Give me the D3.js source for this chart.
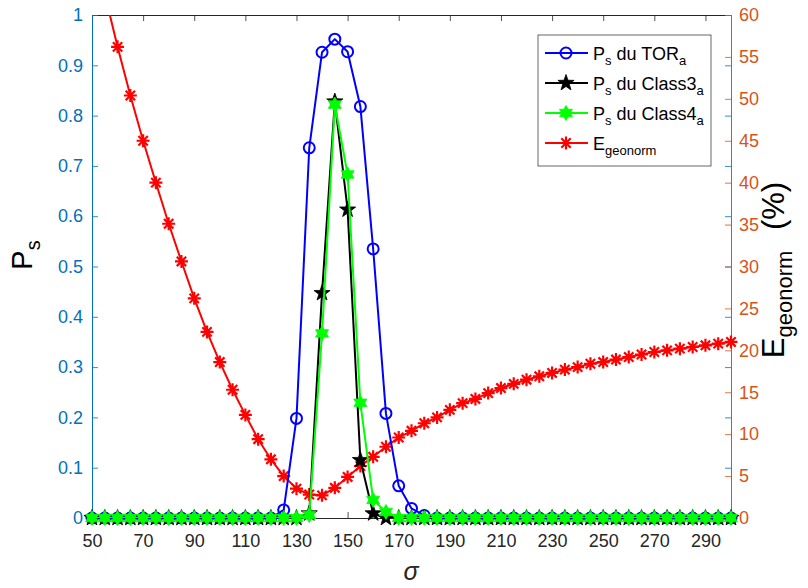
<!DOCTYPE html>
<html><head><meta charset="utf-8">
<script src="https://cdn.jsdelivr.net/npm/d3@7"></script>
<style>body{margin:0;background:#fff}svg{display:block}text{font-family:"Liberation Sans",Arial,sans-serif}</style>
</head><body><svg id="c" width="808" height="588"></svg>
<script>
const sigma=[50,55,60,65,70,75,80,85,90,95,100,105,110,115,120,125,130,135,140,145,150,155,160,165,170,175,180,185,190,195,200,205,210,215,220,225,230,235,240,245,250,255,260,265,270,275,280,285,290,295,300];
const psTOR=[0,0,0,0,0,0,0,0,0,0,0,0,0,0,0,0.016,0.198,0.736,0.926,0.952,0.927,0.818,0.535,0.208,0.064,0.019,0.005,0,0,0,0,0,0,0,0,0,0,0,0,0,0,0,0,0,0,0,0,0,0,0,0];
const psClass3=[0,0,0,0,0,0,0,0,0,0,0,0,0,0,0,0,0,0.009,0.447,0.828,0.613,0.115,0.009,0,0,0,0,0,0,0,0,0,0,0,0,0,0,0,0,0,0,0,0,0,0,0,0,0,0,0,0];
const psClass4=[0,0,0,0,0,0,0,0,0,0,0,0,0,0,0,0,0,0.006,0.367,0.822,0.683,0.229,0.036,0.012,0,0,0,0,0,0,0,0,0,0,0,0,0,0,0,0,0,0,0,0,0,0,0,0,0,0,0];
const eGeonorm=[69,62.5,56.2,50.4,45.0,40.0,35.1,30.6,26.2,22.2,18.6,15.3,12.3,9.4,7.0,5.0,3.5,2.8,2.7,3.6,4.9,6.2,7.3,8.5,9.6,10.4,11.3,12.0,12.9,13.7,14.2,14.9,15.5,16.0,16.5,16.9,17.3,17.7,18.0,18.4,18.6,18.9,19.2,19.5,19.8,20.0,20.2,20.4,20.6,20.8,21.0];
const xTicks=[50,70,90,110,130,150,170,190,210,230,250,270,290];
const yLeftTicks=[0,0.1,0.2,0.3,0.4,0.5,0.6,0.7,0.8,0.9,1];
const yRightTicks=[0,5,10,15,20,25,30,35,40,45,50,55,60];
const legendLabels=[["P","s"," du TOR","a"],["P","s"," du Class3","a"],["P","s"," du Class4","a"],["E","geonorm","",""]];

const svg=d3.select("#c");
const m={l:92,r:731,t:15,b:518};
const x=d3.scaleLinear().domain([50,300]).range([m.l,m.r]);
const yL=d3.scaleLinear().domain([0,1]).range([m.b,m.t]);
const yR=d3.scaleLinear().domain([0,60]).range([m.b,m.t]);
const BLUEAX="#0072BD",ORANGE="#D95319",GRAY="#262626";

svg.append("defs").append("clipPath").attr("id","clip").append("rect")
  .attr("x",m.l).attr("y",m.t).attr("width",m.r-m.l).attr("height",m.b-m.t);

function styleAxis(g,color,fs){
  g.select(".domain").attr("stroke",color).attr("stroke-width",1);
  g.selectAll(".tick line").attr("stroke",color).attr("stroke-width",0.8);
  g.selectAll(".tick text").attr("fill",color).attr("font-size",fs).attr("font-family","'Liberation Sans',Arial,sans-serif");
}
const fmt=d3.format("~g");
let g=svg.append("g").attr("transform",`translate(0,${m.b})`)
  .call(d3.axisBottom(x).tickValues(xTicks).tickSize(-6).tickSizeOuter(0).tickPadding(16).tickFormat(fmt));
styleAxis(g,GRAY,18);
g=svg.append("g").attr("transform",`translate(0,${m.t})`)
  .call(d3.axisTop(x).tickValues(xTicks).tickSize(-6).tickSizeOuter(0).tickFormat(""));
styleAxis(g,GRAY,18);
g=svg.append("g").attr("transform",`translate(${m.r},0)`)
  .call(d3.axisRight(yL).tickValues(yLeftTicks).tickSize(-6).tickSizeOuter(0).tickFormat(""));
styleAxis(g,BLUEAX,18);
g=svg.append("g").attr("transform",`translate(${m.l},0)`)
  .call(d3.axisLeft(yL).tickValues(yLeftTicks).tickSize(-6).tickSizeOuter(0).tickPadding(9).tickFormat(fmt));
styleAxis(g,BLUEAX,18);
g=svg.append("g").attr("transform",`translate(${m.r},0)`)
  .call(d3.axisRight(yR).tickValues(yRightTicks).tickSize(-6).tickSizeOuter(0).tickPadding(8).tickFormat(fmt));
styleAxis(g,ORANGE,18);

function starPath(n,R,r){
  let p=[];
  for(let i=0;i<2*n;i++){
    const a=-Math.PI/2+i*Math.PI/n;
    const rad=i%2===0?R:r;
    p.push([rad*Math.cos(a),rad*Math.sin(a)]);
  }
  return "M"+p.map(q=>q[0].toFixed(2)+","+q[1].toFixed(2)).join("L")+"Z";
}
const pent=starPath(5,8.5,3.4);
const hexa=starPath(6,7.5,4.3);
function drawMarker(sel,type,color){
  if(type==="o"){
    sel.append("circle").attr("r",5.5).attr("fill","none").attr("stroke",color).attr("stroke-width",2);
  }else if(type==="p"){
    sel.append("path").attr("d",pent).attr("fill",color).attr("stroke",color).attr("stroke-width",0.8);
  }else if(type==="h"){
    sel.append("path").attr("d",hexa).attr("fill",color).attr("stroke",color).attr("stroke-width",0.8);
  }else if(type==="*"){
    const r=6.5,d=r*0.72;
    sel.append("path").attr("d",`M${-r},0L${r},0M0,${-r}L0,${r}M${-d},${-d}L${d},${d}M${-d},${d}L${d},${-d}`)
      .attr("stroke",color).attr("stroke-width",2.2).attr("fill","none");
  }
}
const series=[
  {vals:eGeonorm,y:yR,color:"#FF0000",mk:"*",max:60},
  {vals:psTOR,y:yL,color:"#0000FF",mk:"o",max:1},
  {vals:psClass3,y:yL,color:"#000000",mk:"p",max:1},
  {vals:psClass4,y:yL,color:"#00FF00",mk:"h",max:1}
];
series.forEach(s=>{
  const data=sigma.map((sx,i)=>({sx,v:s.vals[i]}));
  const line=d3.line().x(d=>x(d.sx)).y(d=>s.y(d.v));
  svg.append("path").datum(data).attr("d",line).attr("fill","none")
    .attr("stroke",s.color).attr("stroke-width",2).attr("stroke-linejoin","round")
    .attr("clip-path","url(#clip)");
  const mg=svg.append("g");
  data.filter(d=>d.v<=s.max).forEach(d=>{
    const gg=mg.append("g").attr("transform",`translate(${x(d.sx)},${s.y(d.v)})`);
    drawMarker(gg,s.mk,s.color);
  });
});

const lg=svg.append("g");
lg.append("rect").attr("x",538).attr("y",35).attr("width",173).attr("height",131)
  .attr("fill","#fff").attr("stroke",GRAY).attr("stroke-width",0.7);
const legSeries=[series[1],series[2],series[3],series[0]];
const rowsY=[53,83,113,143];
legSeries.forEach((s,i)=>{
  const yy=rowsY[i];
  lg.append("line").attr("x1",545).attr("x2",588).attr("y1",yy).attr("y2",yy)
    .attr("stroke",s.color).attr("stroke-width",2);
  drawMarker(lg.append("g").attr("transform",`translate(566,${yy})`),s.mk,s.color);
  const t=lg.append("text").attr("x",593).attr("y",yy+6.5).attr("font-size",18).attr("fill","#000");
  const L=legendLabels[i];
  t.append("tspan").text(L[0]);
  t.append("tspan").attr("dy",5).attr("font-size",13).text(L[1]);
  if(L[2]){
    t.append("tspan").attr("dy",-5).text(L[2]);
    t.append("tspan").attr("dy",5).attr("font-size",13).text(L[3]);
  }
});

const pl=svg.append("text").attr("transform","translate(32,255) rotate(-90)")
  .attr("text-anchor","middle").attr("font-size",29).attr("fill","#000");
pl.append("tspan").text("P");
pl.append("tspan").attr("dy",8).attr("font-size",20).text("s");

const el=svg.append("text").attr("transform","translate(784,270) rotate(-90)")
  .attr("text-anchor","middle").attr("font-size",31).attr("fill","#000");
el.append("tspan").text("E");
el.append("tspan").attr("dy",8).attr("font-size",22).text("geonorm");
el.append("tspan").attr("dy",-8).attr("dx",12).text(" (%)");

svg.append("text").attr("x",411).attr("y",580).attr("text-anchor","middle")
  .attr("font-size",25).attr("font-style","italic").attr("font-family","'Liberation Serif','Times New Roman',serif")
  .attr("fill","#262626").text("σ");
</script></body></html>
